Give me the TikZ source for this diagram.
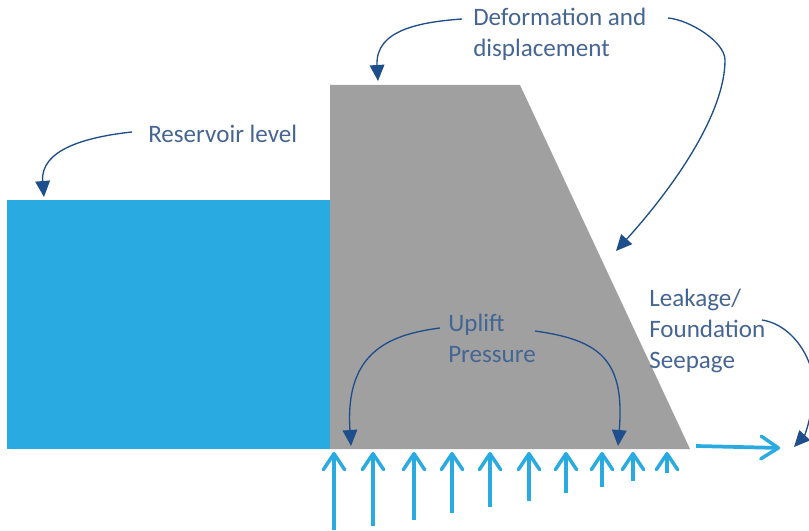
\documentclass[tikz,border=0pt]{standalone}
\usepackage{fontspec}
\setmainfont{Carlito}
\usetikzlibrary{arrows.meta}
\pgfdeclarearrow{
  name=OpenHead,
  defaults={length=14pt,width=16pt},
  parameters={\the\pgfarrowlength,\the\pgfarrowwidth},
  setup code={
    \pgfarrowssettipend{0pt}
    \pgfarrowssetbackend{-\pgfarrowlength}
    \pgfarrowssetlineend{-3pt}
    \pgfarrowssavethe\pgfarrowlength
    \pgfarrowssavethe\pgfarrowwidth
  },
  drawing code={
    \pgfsetlinewidth{2.6pt}
    \pgfsetdash{}{0pt}
    \pgfsetroundcap
    \pgfsetroundjoin
    \pgfpathmoveto{\pgfqpoint{-\pgfarrowlength}{0.5\pgfarrowwidth}}
    \pgfpathlineto{\pgfqpoint{-2pt}{0pt}}
    \pgfpathlineto{\pgfqpoint{-\pgfarrowlength}{-0.5\pgfarrowwidth}}
    \pgfusepathqstroke
  },
}
\definecolor{damgray}{HTML}{A0A0A0}
\definecolor{waterblue}{HTML}{29ABE2}
\definecolor{darkarrow}{HTML}{1F4E8C}
\definecolor{labeltext}{HTML}{456594}
\tikzset{
  lbl/.style={inner sep=0pt,anchor=west,text=labeltext,font=\fontsize{18.8pt}{23.3pt}\selectfont,align=left},
  callout/.style={draw=darkarrow,line width=1pt,-{Triangle[length=12pt,width=11pt,fill=darkarrow]}},
  uplift/.style={draw=waterblue,line width=2.6pt,-{OpenHead[length=14pt,width=16pt]}},
  flow/.style={draw=waterblue,line width=2.8pt,-{OpenHead[length=15pt,width=17pt]}},
}
\begin{document}
\begin{tikzpicture}[x=0.75pt,y=-0.75pt]
\useasboundingbox (0,0) rectangle (809,531);
\clip (0,0) rectangle (809,531);
\fill[waterblue] (7,200) rectangle (330,449);
\fill[damgray] (330,85) -- (520,85) -- (690,449) -- (330,449) -- cycle;
\node[lbl] (res) at (148,134) {Reservoir level};
\node[lbl] (def) at (473,34) {Deformation and\\displacement};
\node[lbl] (upl) at (448,338) {Uplift\\Pressure};
\node[lbl] (lea) at (649,331) {Leakage/\\Foundation\\Seepage};
\coordinate (resS) at (132,132);
\coordinate (resE) at (44,197);
\coordinate (defLS) at (462,19);
\coordinate (defLE) at (378,81);
\coordinate (defRS) at (668,18);
\coordinate (defRE) at (616,251);
\coordinate (uplLS) at (440,328);
\coordinate (uplLE) at (351,446);
\coordinate (uplRS) at (535,331);
\coordinate (uplRE) at (618,446);
\coordinate (leaS) at (762,320);
\coordinate (leaE) at (794,447);
\draw[callout] (resS) .. controls (85,137) and (40,150) .. (resE);
\draw[callout] (defLS) .. controls (420,22) and (375,30) .. (defLE);
\draw[callout] (defRS) .. controls (690,20) and (725,42) .. (725,60)
  .. controls (725,110) and (680,180) .. (defRE);
\draw[callout] (uplLS) .. controls (385,335) and (345,355) .. (uplLE);
\draw[callout] (uplRS) .. controls (600,340) and (625,360) .. (uplRE);
\draw[callout] (leaS) .. controls (795,325) and (818,365) .. (813,395)
  .. controls (812,415) and (805,435) .. (leaE);
\foreach \n/\x/\y in {a/334/530,b/373/526,c/414/520,d/452/513,e/490/507,f/529/501,g/566/493,h/602/487,i/633/481,j/667/473}{
  \coordinate (\n0) at (\x,\y);
  \coordinate (\n1) at (\x,451);
  \draw[uplift] (\n0) -- (\n1);
}
\coordinate (fl0) at (696,446);
\coordinate (fl1) at (781,448);
\draw[flow] (fl0) -- (fl1);
\end{tikzpicture}
\end{document}
